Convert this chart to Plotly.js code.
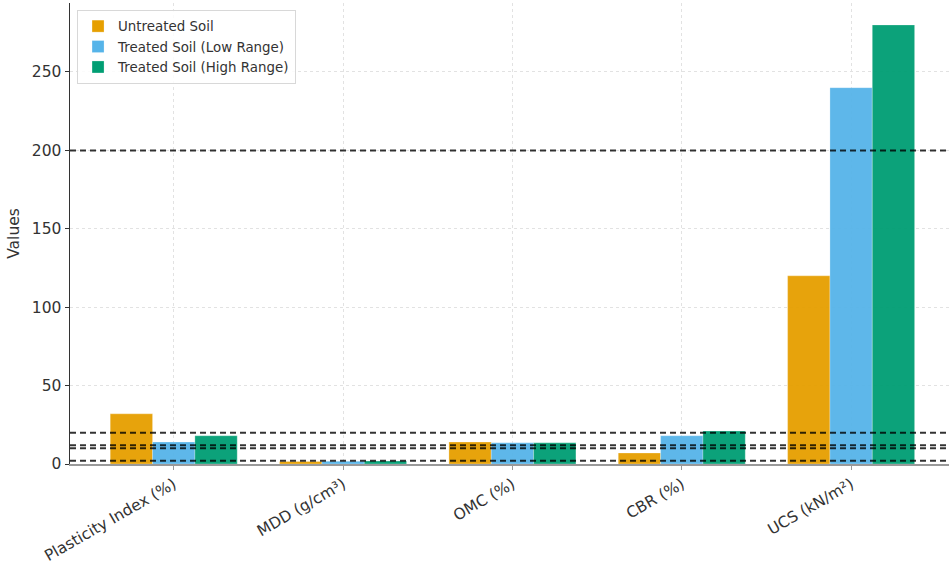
<!DOCTYPE html>
<html>
<head>
<meta charset="utf-8">
<script src="https://cdn.plot.ly/plotly-3.0.1.min.js"></script>
<style>html,body{margin:0;padding:0;background:#fff;}#chart{width:949px;height:566px;}</style>
</head>
<body>
<div id="chart"></div>
<script>
const categories = ["Plasticity Index (%)", "MDD (g/cm³)", "OMC (%)", "CBR (%)", "UCS (kN/m²)"];
const untreated = [32, 1.6, 14, 7, 120];
const treatedLow = [14, 1.8, 13.5, 18, 240];
const treatedHigh = [18, 1.9, 13.5, 21, 280];
const seriesNames = ["Untreated Soil", "Treated Soil (Low Range)", "Treated Soil (High Range)"];
const seriesColors = ["#E69F00", "#56B4E9", "#009E73"];
const thresholds = [20, 2, 12, 10, 200];
const yTicks = [0, 50, 100, 150, 200, 250];

const seriesValues = [untreated, treatedLow, treatedHigh];
const traces = seriesValues.map((vals, i) => ({
  type: "bar",
  x: categories,
  y: vals,
  name: seriesNames[i],
  marker: {color: seriesColors[i], opacity: 0.95, line: {color: "rgba(255,255,255,0.5)", width: 0.5}}
}));

const shapes = thresholds.map(v => ({
  type: "line", xref: "paper", x0: 0, x1: 1, yref: "y", y0: v, y1: v,
  line: {color: "rgba(0,0,0,0.8)", width: 2, dash: "6px,4px"},
  layer: "above"
}));

const layout = {
  width: 949, height: 566,
  margin: {l: 70, r: 0, t: 3, b: 102, pad: 0},
  paper_bgcolor: "#fff", plot_bgcolor: "#fff",
  font: {family: "DejaVu Sans, sans-serif", color: "#333"},
  barmode: "group", bargap: 0.25, bargroupgap: 0,
  showlegend: true,
  legend: {x: 0.008, y: 0.985, xanchor: "left", yanchor: "top",
    bgcolor: "rgba(255,255,255,0.85)", bordercolor: "#d8d8d8", borderwidth: 1,
    font: {size: 13.4, color: "#333"}, tracegroupgap: 0, itemwidth: 30},
  xaxis: {
    type: "category", range: [-0.6125, 4.578],
    tickangle: -30, tickfont: {size: 15.5, color: "#333"},
    showgrid: true, gridcolor: "#e2e2e2", griddash: "dot", gridwidth: 1,
    showline: true, linecolor: "#999", linewidth: 1.5,
    ticks: "outside", ticklen: 4, tickcolor: "#999",
    zeroline: false
  },
  yaxis: {
    range: [0, 294], tickvals: yTicks,
    tickfont: {size: 15.5, color: "#333"},
    title: {text: "Values", font: {size: 15.5, color: "#333"}, standoff: 8},
    showgrid: true, gridcolor: "#e2e2e2", griddash: "dot", gridwidth: 1,
    showline: true, linecolor: "#333", linewidth: 1.5,
    ticks: "outside", ticklen: 4, tickcolor: "#333",
    zeroline: false
  },
  shapes: shapes
};

Plotly.newPlot("chart", traces, layout, {displayModeBar: false, staticPlot: true});
</script>
</body>
</html>
